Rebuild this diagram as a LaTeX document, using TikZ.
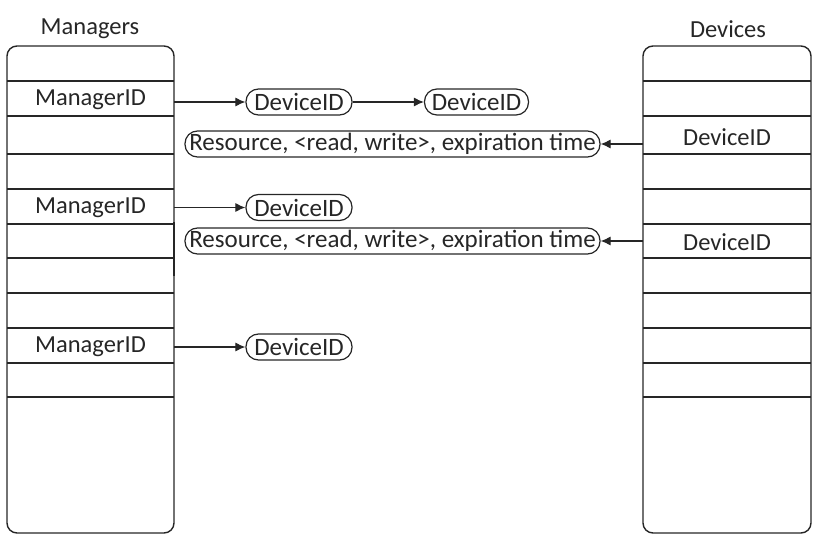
\documentclass[tikz,border=0pt]{standalone}
\usepackage{fontspec}
\setmainfont{Carlito}
\usetikzlibrary{arrows.meta}
\definecolor{ink}{HTML}{262626}
\tikzset{
  tablebox/.style={draw=ink, line width=1.4pt, rounded corners=10pt},
  rowline/.style={draw=ink, line width=1.1pt},
  cell/.style={inner sep=0pt, minimum height=35pt, text=ink, font=\fontsize{24.5}{28}\selectfont},
  title/.style={inner sep=0pt, text=ink, font=\fontsize{24.5}{28}\selectfont},
  pill/.style={draw=ink, line width=1.2pt, rounded corners=12.5pt, minimum height=26pt, inner sep=0pt, text=ink, font=\fontsize{25}{28}\selectfont},
  link/.style={draw=ink, line width=1.1pt, -{Latex[length=10pt,width=9pt]}}
}
\begin{document}
\begin{tikzpicture}[x=1pt,y=-1pt]
\useasboundingbox (0,0) rectangle (820,543);
% tables
\draw[tablebox] (7,46) rectangle (174,533);
\draw[tablebox] (643,46) rectangle (811,533);
\foreach \y in {81,116,154,189,224,258,293,328,363,397}{
  \draw[rowline] (7,\y) -- (174,\y);
  \draw[rowline] (643,\y) -- (811,\y);
}
\draw[ink, line width=2.4pt] (174,222) -- (174,276);
% titles
\node[title] (mt) at (90,29) {Managers};
\node[title] (dt) at (728,29) {Devices};
% cells
\node[cell, minimum width=167pt] (m1) at (90.5,100) {ManagerID};
\node[cell, minimum width=167pt] (m2) at (90.5,208) {ManagerID};
\node[cell, minimum width=167pt] (m3) at (90.5,346.5) {ManagerID};
\node[cell, minimum width=168pt] (d1) at (727,137) {DeviceID};
\node[cell, minimum width=168pt] (d2) at (727,242) {DeviceID};
% pills
\node[pill, minimum width=106pt] (p1) at (299,102) {DeviceID};
\node[pill, minimum width=104pt] (p2) at (476.5,102) {DeviceID};
\node[pill, minimum width=415pt] (r1) at (392.5,144) {Resource, <read, write>, expiration time};
\node[pill, minimum width=106pt] (p3) at (299,207.5) {DeviceID};
\node[pill, minimum width=415pt] (r2) at (392.5,241) {Resource, <read, write>, expiration time};
\node[pill, minimum width=106pt] (p4) at (299,347) {DeviceID};
% connectors
\draw[link] (m1.east |- p1.west) -- (p1.west);
\draw[link] (p1.east) -- (p2.west);
\draw[link] (d1.west |- r1.east) -- (r1.east);
\draw[link] (m2.east |- p3.west) -- (p3.west);
\draw[link] (d2.west |- r2.east) -- (r2.east);
\draw[link] (m3.east |- p4.west) -- (p4.west);
\end{tikzpicture}
\end{document}
